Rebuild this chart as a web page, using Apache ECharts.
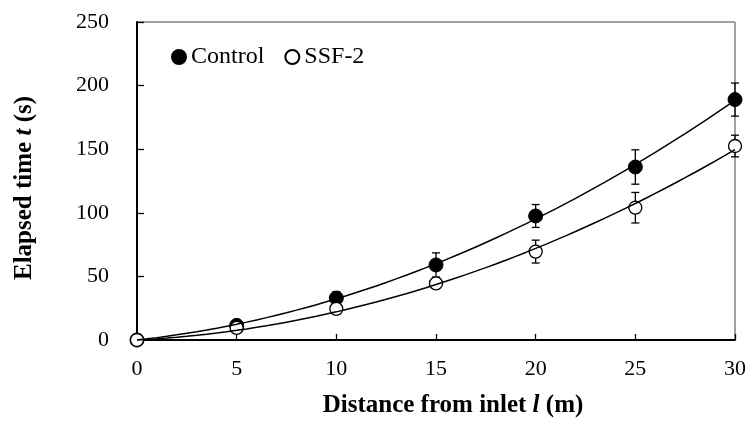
<!DOCTYPE html>
<html>
<head>
<meta charset="utf-8">
<script src="https://cdn.jsdelivr.net/npm/echarts@6/dist/echarts.min.js"></script>
<style>
  html, body { margin: 0; padding: 0; background: #fff; }
  #chart { width: 749px; height: 425px; }
</style>
</head>
<body>
<div id="chart"></div>
<script>
// Distance from inlet (m)
const distance = [0, 5, 10, 15, 20, 25, 30];
// Elapsed time (s), mean values
const controlTime = [0, 11.5, 33, 59, 97.5, 136, 189];
const ssfTime = [0, 9.5, 24.5, 44.5, 69.5, 104, 152.5];
// Standard deviations
const controlErr = [0, 2, 5, 9.5, 9, 13.5, 13];
const ssfErr = [0, 2, 2.5, 3, 9, 12, 8.5];
// Axis ticks
const xTicks = [0, 5, 10, 15, 20, 25, 30];
const yTicks = [0, 50, 100, 150, 200, 250];

const FONT = 'Liberation Serif';

// Least-squares quadratic through the origin: t = a*l^2 + b*l
function fitQuadratic(xs, ys) {
  let s4 = 0, s3 = 0, s2 = 0, s2y = 0, s1y = 0;
  xs.forEach((x, i) => {
    s4 += x ** 4; s3 += x ** 3; s2 += x ** 2;
    s2y += x * x * ys[i]; s1y += x * ys[i];
  });
  const det = s4 * s2 - s3 * s3;
  const a = (s2y * s2 - s3 * s1y) / det;
  const b = (s4 * s1y - s3 * s2y) / det;
  const pts = [];
  const xMax = xs[xs.length - 1];
  for (let k = 0; k <= 60; k++) {
    const x = xMax * k / 60;
    pts.push([x, a * x * x + b * x]);
  }
  return pts;
}

function pairs(ys) { return distance.map((x, i) => [x, ys[i]]); }
function errData(ys, es) { return distance.map((x, i) => [x, ys[i] - es[i], ys[i] + es[i]]); }

function renderErr(params, api) {
  const x = api.value(0);
  const lo = api.coord([x, api.value(1)]);
  const hi = api.coord([x, api.value(2)]);
  const w = 4;
  const style = { stroke: '#000', lineWidth: 1.3 };
  return {
    type: 'group',
    children: [
      { type: 'line', shape: { x1: lo[0], y1: lo[1], x2: hi[0], y2: hi[1] }, style },
      { type: 'line', shape: { x1: lo[0] - w, y1: lo[1], x2: lo[0] + w, y2: lo[1] }, style },
      { type: 'line', shape: { x1: hi[0] - w, y1: hi[1], x2: hi[0] + w, y2: hi[1] }, style }
    ]
  };
}

const chart = echarts.init(document.getElementById('chart'), null, { renderer: 'canvas' });

function axisNameStyle(pad) {
  return {
    fontFamily: FONT, fontSize: 25, color: '#000', padding: pad,
    rich: {
      b: { fontFamily: FONT, fontSize: 25, fontWeight: 'bold', color: '#000' },
      bi: { fontFamily: FONT, fontSize: 25, fontWeight: 'bold', fontStyle: 'italic', color: '#000' }
    }
  };
}

chart.setOption({
  animation: false,
  backgroundColor: '#fff',
  grid: {
    left: 137, right: 10, top: 22, bottom: 85,
    show: true, borderColor: '#444', borderWidth: 1, backgroundColor: 'transparent'
  },
  legend: {
    data: ['Control', 'SSF-2'],
    left: 171, top: 45, padding: 0,
    itemWidth: 14, itemHeight: 14, itemGap: 20,
    textStyle: { fontFamily: FONT, fontSize: 24, color: '#000' }
  },
  xAxis: {
    type: 'value',
    min: xTicks[0], max: xTicks[xTicks.length - 1], interval: 5,
    name: '{b|Distance from inlet }{bi|l}{b| (m)}',
    nameLocation: 'middle', nameGap: 53,
    nameTextStyle: axisNameStyle([0, 0, 0, 34]),
    axisLine: { show: true, lineStyle: { color: '#000', width: 2 } },
    axisTick: { show: true, inside: true, length: 6, lineStyle: { color: '#000', width: 1.3 } },
    axisLabel: { fontFamily: FONT, fontSize: 22, color: '#000', margin: 18 },
    splitLine: { show: false }
  },
  yAxis: {
    type: 'value',
    min: yTicks[0], max: yTicks[yTicks.length - 1], interval: 50,
    name: '{b|Elapsed time }{bi|t}{b| (s)}',
    nameLocation: 'middle', nameGap: 100,
    nameTextStyle: axisNameStyle([0, 14, 0, 0]),
    axisLine: { show: true, lineStyle: { color: '#000', width: 2 } },
    axisTick: { show: true, inside: true, length: 7, lineStyle: { color: '#000', width: 1.3 } },
    axisLabel: { fontFamily: FONT, fontSize: 22, color: '#000', margin: 28 },
    splitLine: { show: false }
  },
  series: [
    {
      type: 'custom', name: 'Control err', renderItem: renderErr,
      data: errData(controlTime, controlErr), z: 2, silent: true
    },
    {
      type: 'custom', name: 'SSF-2 err', renderItem: renderErr,
      data: errData(ssfTime, ssfErr), z: 2, silent: true
    },
    {
      type: 'scatter', name: 'Control', data: pairs(controlTime),
      symbol: 'circle', symbolSize: 14,
      itemStyle: { color: '#000', borderColor: '#000', borderWidth: 1, opacity: 1 }, z: 3
    },
    {
      type: 'scatter', name: 'SSF-2', data: pairs(ssfTime),
      symbol: 'circle', symbolSize: 13,
      itemStyle: { color: '#fff', borderColor: '#000', borderWidth: 1.3, opacity: 1 }, z: 3
    },
    {
      type: 'line', data: fitQuadratic(distance, controlTime),
      showSymbol: false, smooth: false, silent: true,
      lineStyle: { color: '#000', width: 1.5 }, z: 4
    },
    {
      type: 'line', data: fitQuadratic(distance, ssfTime),
      showSymbol: false, smooth: false, silent: true,
      lineStyle: { color: '#000', width: 1.5 }, z: 4
    }
  ]
});
</script>
</body>
</html>
